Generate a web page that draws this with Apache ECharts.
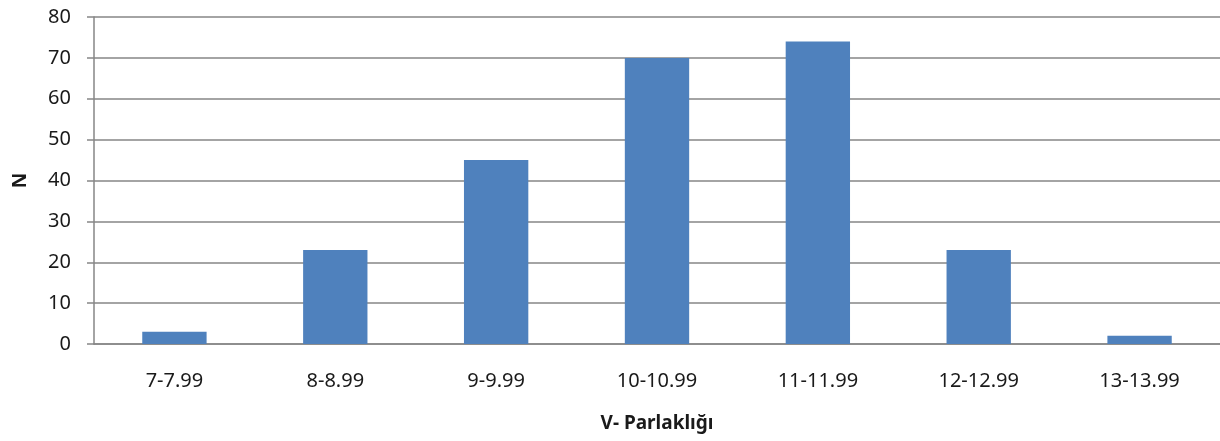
<!DOCTYPE html>
<html>
<head>
<meta charset="utf-8">
<script src="https://cdn.jsdelivr.net/npm/echarts@6/dist/echarts.min.js"></script>
<style>
html,body{margin:0;padding:0;background:#fff;overflow:hidden;}
#chart{width:1220px;height:441px;}
</style>
</head>
<body>
<div id="chart"></div>
<script>
var categories = ['7-7.99','8-8.99','9-9.99','10-10.99','11-11.99','12-12.99','13-13.99'];
var counts = [3, 23, 45, 70, 74, 23, 2];
var xTitle = 'V- Parlaklığı';
var yTitle = 'N';

var chart = echarts.init(document.getElementById('chart'), null, {renderer:'canvas'});
var font = 'Noto Sans';
chart.setOption({
  animation: false,
  backgroundColor: '#ffffff',
  grid: {left: 94, width: 1130, top: 17, height: 327, containLabel: false},
  xAxis: {
    type: 'category',
    data: categories,
    name: xTitle,
    nameLocation: 'middle',
    nameGap: 70,
    nameTextStyle: {fontFamily: font, fontSize: 19, fontWeight: 'bold', color: '#1a1a1a'},
    axisLine: {lineStyle: {color: '#868686', width: 1.5}},
    axisTick: {show: false},
    axisLabel: {fontFamily: font, fontSize: 20, color: '#1a1a1a', margin: 27}
  },
  yAxis: {
    type: 'value',
    min: 0, max: 80, interval: 10,
    name: yTitle,
    nameLocation: 'middle',
    nameGap: 64,
    nameRotate: 90,
    nameTextStyle: {fontFamily: font, fontSize: 19, fontWeight: 'bold', color: '#1a1a1a'},
    axisLine: {show: true, lineStyle: {color: '#868686', width: 1.5}},
    axisTick: {show: true, inside: false, length: 7, lineStyle: {color: '#868686', width: 1.5}},
    axisLabel: {fontFamily: font, fontSize: 20, color: '#1a1a1a', margin: 23},
    splitLine: {lineStyle: {color: '#868686', width: 1.5}}
  },
  series: [{
    type: 'bar',
    data: counts,
    barWidth: '40%',
    itemStyle: {color: '#4F81BD'}
  }]
});
</script>
</body>
</html>
